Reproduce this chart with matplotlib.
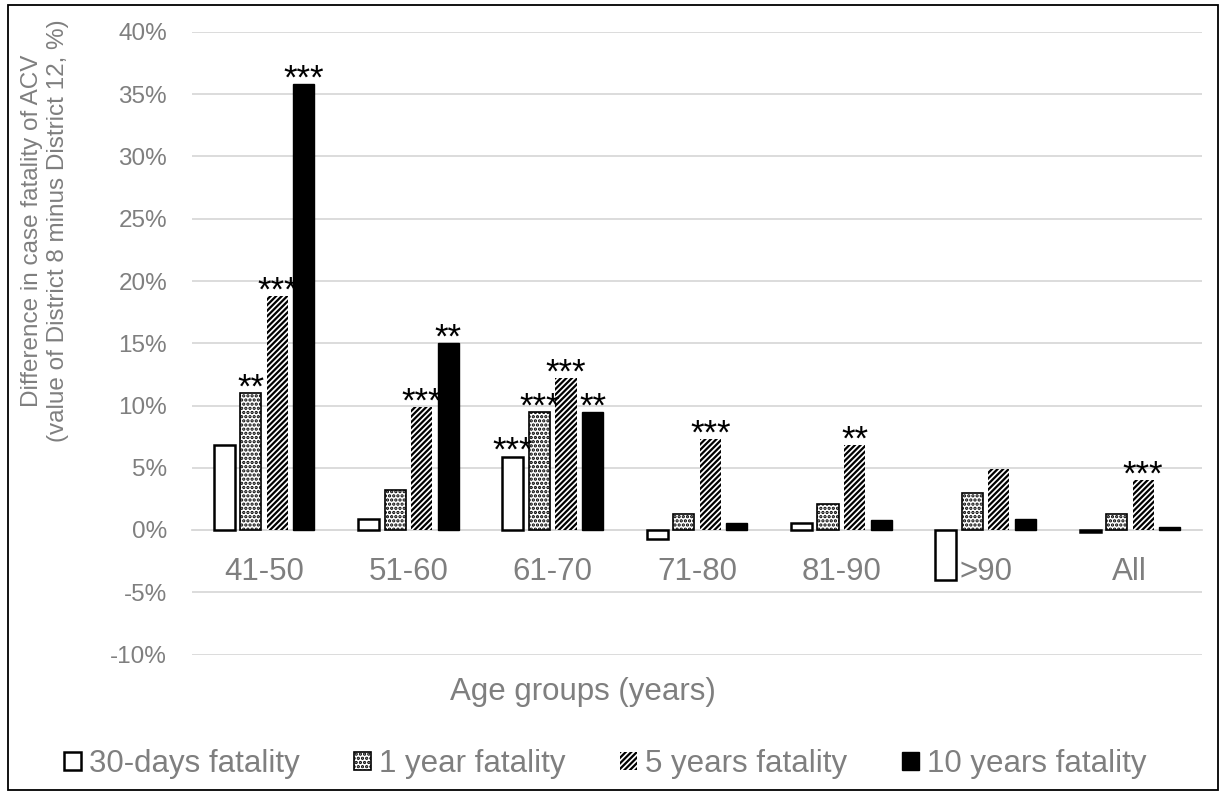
import matplotlib
matplotlib.use("Agg")
import matplotlib.pyplot as plt
import matplotlib.patches as mpatches
import numpy as np

plt.rcParams['font.family'] = ['Liberation Sans', 'DejaVu Sans']
plt.rcParams['hatch.linewidth'] = 1.6

categories = ["41-50", "51-60", "61-70", "71-80", "81-90", ">90", "All"]
series_names = ["30-days fatality", "1 year fatality", "5 years fatality", "10 years fatality"]
d30 = [6.8, 0.9, 5.9, -0.7, 0.6, -4.0, -0.15]
y1 = [11.0, 3.2, 9.5, 1.3, 2.1, 3.0, 1.3]
y5 = [18.8, 9.9, 12.2, 7.3, 6.8, 4.9, 4.0]
y10 = [35.8, 15.0, 9.5, 0.6, 0.8, 0.9, 0.25]
stars_d30 = ["", "", "***", "", "", "", ""]
stars_y1 = ["**", "", "***", "", "", "", ""]
stars_y5 = ["***", "***", "***", "***", "**", "", "***"]
stars_y10 = ["***", "**", "**", "", "", "", ""]
yticks = [-10, -5, 0, 5, 10, 15, 20, 25, 30, 35, 40]

TXT = '#7f7f7f'
W, H = 1223, 795
fig = plt.figure(figsize=(W/100, H/100), dpi=100)
ax = fig.add_axes([192/W, 1-654.5/H, (1202-192)/W, (654.5-32)/H])

x = np.arange(len(categories))
w = 0.146
step = 0.184
styles = [
    dict(facecolor='white', edgecolor='black', hatch=None, linewidth=1.8),
    dict(facecolor='white', edgecolor='black', hatch='....', linewidth=1.2),
    dict(facecolor='white', edgecolor='black', hatch='//////', linewidth=0),
    dict(facecolor='black', edgecolor='black', hatch=None, linewidth=1),
]
data = [d30, y1, y5, y10]
stars = [stars_d30, stars_y1, stars_y5, stars_y10]
handles = []
for i, (vals, st, sty) in enumerate(zip(data, stars, styles)):
    pos = x + (i - 1.5) * step
    bars = ax.bar(pos, vals, width=w, zorder=3, label=series_names[i], **sty)
    handles.append(bars)
    for p, v, s in zip(pos, vals, st):
        if s:
            ax.annotate(s, xy=(p, max(v, 0)), xytext=(0, -8.3), textcoords='offset points',
                        ha='center', va='bottom', fontsize=25, color='black', zorder=4)

ax.set_ylim(-10, 40)
ax.set_xlim(-0.5, len(categories) - 0.5)
ax.set_yticks(yticks)
ax.set_yticklabels([f"{t}%" for t in yticks])
ax.grid(axis='y', color='#d9d9d9', linewidth=1.3, zorder=0)
ax.set_axisbelow(True)
for s in ['top', 'right', 'left']:
    ax.spines[s].set_visible(False)
ax.spines['bottom'].set_position(('data', 0))
ax.spines['bottom'].set_color('#d9d9d9')
ax.spines['bottom'].set_linewidth(1.3)
ax.spines['bottom'].set_zorder(2)
ax.set_xticks(x)
ax.set_xticklabels(categories)
ax.tick_params(axis='x', length=0, pad=19.5, labelsize=22.5, labelcolor=TXT)
ax.tick_params(axis='y', length=0, pad=18, labelsize=17.5, labelcolor=TXT)

fig.text(583/W, 1-692/H, "Age groups (years)", ha='center', va='center',
         fontsize=22.5, color=TXT)
fig.text(45/W, 1-231/H, "Difference in case fatality of ACV\n(value of District 8 minus District 12, %)",
         ha='center', va='center', rotation=90, fontsize=17.5, color=TXT,
         linespacing=1.2)

leg = fig.legend(handles=handles, labels=series_names, loc='center',
                 bbox_to_anchor=(605/W, 1-764/H), ncol=4, frameon=False,
                 fontsize=22.5, handlelength=0.55, handleheight=0.55,
                 handletextpad=0.25, columnspacing=1.75, labelcolor=TXT)

fig.patches.append(mpatches.Rectangle((8/W, 5/H), (1218-8)/W, (790-5)/H, transform=fig.transFigure,
                                      fill=False, edgecolor='black', linewidth=1.3))

fig.savefig("out.png", dpi=100)
